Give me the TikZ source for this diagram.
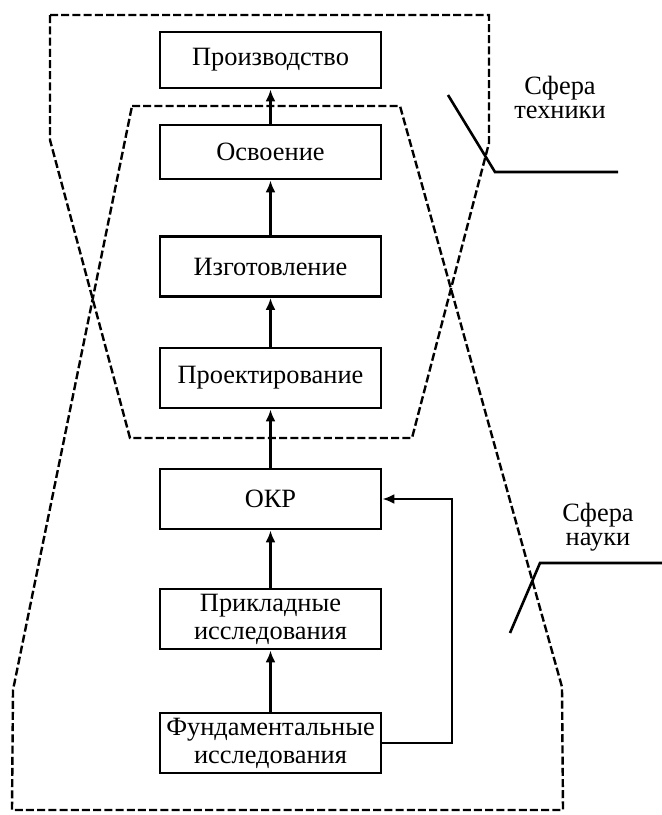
\documentclass[tikz,border=0pt]{standalone}
\usepackage{fontspec}
\setmainfont{Liberation Serif}
\usetikzlibrary{arrows.meta}
\pgfkeys{tikz/stagebox/.style={draw, line width=1.4pt,
                                   minimum width=110.5pt,
                                   minimum height=30pt,
                                   inner xsep=0pt, inner ysep=2pt,
                                   align=center,
                                   font=\fontsize{13.2}{14}\selectfont}}
\pgfkeys{tikz/sphereline/.style={line width=1.2pt, dash pattern=on 4pt off 1.6pt}}
\pgfkeys{tikz/flow/.style={line width=1.2pt, -{Latex[length=6pt,width=5pt]}}}
\pgfkeys{tikz/pointer/.style={line width=1.3pt}}
\pgfkeys{tikz/spherelabel/.style={align=center, font=\fontsize{13.2}{12}\selectfont}}

\begin{document}
\begin{tikzpicture}[x=0.5pt, y=-0.5pt]
                \useasboundingbox (0,0) rectangle (662,815);

                % sphere of technology and sphere of science
                \draw[sphereline] (50,15) -- (489,15) -- (489,143) -- (412,438)
                                  -- (130,438) -- (50,140) -- cycle;
                \draw[sphereline] (132,106) -- (400,106) -- (562,687) -- (563,810)
                                  -- (12,810) -- (13,690) -- cycle;

                \node[stagebox, minimum height=28pt] (top) at (270.5, 60) {Производство};
                \node[stagebox, minimum height=27pt] (n1) at (270.5, 152) {Освоение};
                \node[stagebox] (n2) at (270.5, 266.5) {Изготовление};
                \node[stagebox] (n3) at (270.5, 378) {Проектирование};
                \node[stagebox] (n4) at (270.5, 499) {ОКР};
                \node[stagebox] (n5) at (270.5, 619) {Прикладные\\исследования};
                \node[stagebox] (bottom) at (270.5, 743) {Фундаментальные\\исследования};

                \draw[flow] (n1) -- (top);
                \draw[flow] (n2) -- (n1);
                \draw[flow] (n3) -- (n2);
                \draw[flow] (n4) -- (n3);
                \draw[flow] (n5) -- (n4);
                \draw[flow] (bottom) -- (n5);

                \coordinate (back) at (452, 743);
                \draw[flow] (bottom.east) -- (back) |- (n4.east);

                % labels of the spheres
                \node[spherelabel] (tech) at (560, 97) {Сфера\\техники};
                \coordinate (t1) at (448, 95);
                \coordinate (t2) at (495, 172);
                \coordinate (t3) at (618, 172);
                \draw[pointer] (t1) -- (t2) -- (t3);

                \node[spherelabel] (sci) at (598, 527) {Сфера\\науки};
                \coordinate (s1) at (510, 633);
                \coordinate (s2) at (540, 563);
                \coordinate (s3) at (662, 563);
                \draw[pointer] (s1) -- (s2) -- (s3);
            \end{tikzpicture}
\end{document}
